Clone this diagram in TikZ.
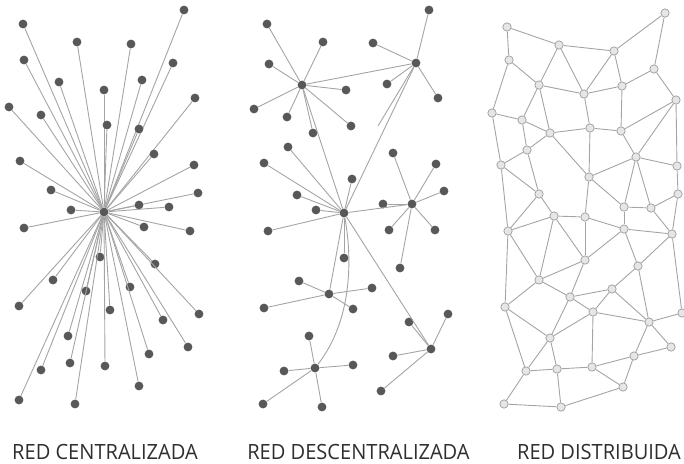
\documentclass[tikz,border=0pt]{standalone}
\usepackage{fontspec}
\setmainfont{Open Sans}
\definecolor{linkgray}{HTML}{A4A4A4}
\definecolor{nodegray}{HTML}{585858}
\definecolor{nodelight}{HTML}{E6E6E6}
\definecolor{labelgray}{HTML}{2E2E2E}
\begin{document}
\begin{tikzpicture}[x=1pt,y=-1pt]
\useasboundingbox (0,0) rectangle (684,463);
\tikzset{
 link/.style={draw=linkgray, line width=0.9pt},
 dnode/.style={circle, fill=nodegray, inner sep=0pt, minimum size=8.8pt},
 lnode/.style={circle, fill=nodelight, draw=linkgray, line width=0.8pt, inner sep=0pt, minimum size=8.3pt},
 lab/.style={font=\fontsize{21}{24}\selectfont, text=labelgray, anchor=base, inner sep=0pt}
}
% ---------- centralized ----------
\node[dnode] (c0) at (104,212) {};
\foreach \x/\y [count=\i] in {184/10,23/24,77/42,131/44,24/60,173/63,59/82,142/80,104/90,195/98,
 9/107,41/115,107/125,139/129,154/154,20/161,194/165,51/190,198/193,139/205,169/207,71/210,
 24/228,144/227,190/231,100/257,155/264,53/280,86/291,130/287,19/306,110/310,199/314,163/320,
 68/336,188/347,149/354,41/370,70/363,105/366,139/386,19/400,75/404}
{ \node[dnode] (c\i) at (\x,\y) {}; \draw[link] (c0) -- (c\i); }

% ---------- decentralized ----------
\node[dnode] (hA) at (302,85) {};
\node[dnode] (hB) at (416,63) {};
\node[dnode] (hC) at (344,213) {};
\node[dnode] (hD) at (412,204) {};
\node[dnode] (hE) at (329,294) {};
\node[dnode] (hF) at (315,368) {};
\node[dnode] (hG) at (431,349) {};
\coordinate (bend) at (378,126);
% hub A leaves
\foreach \x/\y [count=\i] in {267/24,323/42,269/64,346/90,254/109,287/117,351/126,313/133}
{ \node[dnode] (a\i) at (\x,\y) {}; \draw[link] (hA) -- (a\i); }
% hub B leaves
\foreach \x/\y [count=\i] in {429/10,373/43,387/84,438/98}
{ \node[dnode] (b\i) at (\x,\y) {}; \draw[link] (hB) -- (b\i); }
% hub C leaves
\foreach \x/\y [count=\i] in {288/147,264/163,352/179,297/195,316/210,268/231,344/258}
{ \node[dnode] (k\i) at (\x,\y) {}; \draw[link] (hC) -- (k\i); }
% hub D leaves
\foreach \x/\y [count=\i] in {393/153,436/164,444/191,383/204,389/230,435/230,400/268}
{ \node[dnode] (d\i) at (\x,\y) {}; \draw[link] (hD) -- (d\i); }
% hub E leaves
\foreach \x/\y [count=\i] in {299/281,372/288,264/308,353/309}
{ \node[dnode] (e\i) at (\x,\y) {}; \draw[link] (hE) -- (e\i); }
% hub F leaves
\foreach \x/\y [count=\i] in {309/336,353/365,284/371,263/404,322/407}
{ \node[dnode] (f\i) at (\x,\y) {}; \draw[link] (hF) -- (f\i); }
% hub G leaves
\foreach \x/\y [count=\i] in {448/314,409/322,393/356,381/391}
{ \node[dnode] (g\i) at (\x,\y) {}; \draw[link] (hG) -- (g\i); }
% hub links
\draw[link] (hA) -- (hB);
\draw[link] (hA) -- (hC);
\draw[link] (hB) -- (hC);
\draw[link] (hB) -- (bend);
\draw[link] (hC) -- (hD);
\draw[link] (hC) -- (hE);
\draw[link] (hC) -- (hG);
\draw[link] (hC) .. controls (353,262) and (351,322) .. (hF);

% ---------- distributed ----------
\foreach \n/\x/\y in {a/665/13,b/507/27,c/559/45,d/614/51,e/509/60,f/654/69,g/539/85,h/622/86,
 i/584/94,j/676/100,k/492/113,l/522/120,m/590/128,n/550/133,o/621/131,p/527/150,q/636/157,
 r/501/165,s/677/166,t/589/177,u/678/194,v/539/194,w/624/207,x/651/208,y/554/216,z/585/217,
 A/508/231,B/624/229,C/672/234,D/585/260,E/638/266,F/539/280,G/612/289,H/570/297,I/505/307,
 J/593/312,K/682/313,L/649/322,M/550/338,N/671/347,O/634/356,P/526/371,Q/557/369,R/592/367,
 S/623/387,T/504/404,U/561/407}
{ \node[lnode] (m\n) at (\x,\y) {}; }
\foreach \p/\q in {b/c,c/d,d/a,a/f,b/e,e/g,c/g,c/i,d/i,d/h,f/h,f/j,g/i,i/h,e/k,g/l,g/n,i/m,h/o,
 o/j,k/l,l/n,n/m,m/o,o/q,j/q,j/s,l/p,n/p,n/t,m/t,k/r,p/r,p/v,r/v,r/A,t/q,q/s,q/w,q/x,s/u,u/x,
 u/C,t/w,t/z,v/y,v/A,w/x,w/B,x/C,y/z,y/A,y/F,y/D,z/B,z/D,B/C,B/D,B/E,C/E,C/K,A/F,A/I,D/F,D/H,
 F/I,F/H,E/G,E/L,H/G,H/J,G/J,G/L,J/L,L/K,L/N,L/O,I/M,I/P,H/M,J/M,J/R,M/P,M/Q,P/Q,Q/R,R/S,
 R/O,O/N,O/S,P/T,Q/U,T/U,U/S}
{ \draw[link] (m\p) -- (m\q); }

% ---------- labels ----------
\node[lab] (l1) at (105,459) {\scalebox{0.955}[1]{RED CENTRALIZADA}};
\node[lab] (l2) at (358.5,459) {\scalebox{0.955}[1]{RED DESCENTRALIZADA}};
\node[lab] (l3) at (599,459) {\scalebox{0.955}[1]{RED DISTRIBUIDA}};
\end{tikzpicture}
\end{document}
